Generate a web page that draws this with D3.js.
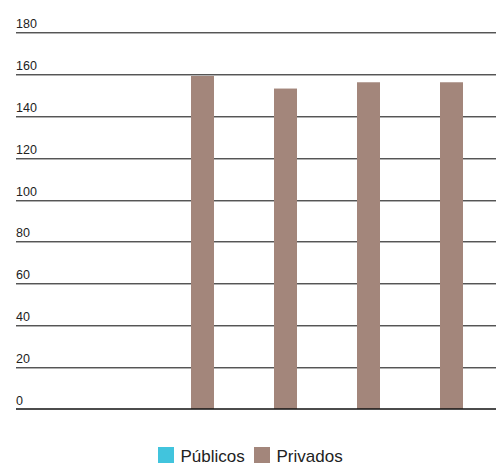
<!DOCTYPE html>
<html>
<head>
<meta charset="utf-8">
<script src="https://cdn.jsdelivr.net/npm/d3@7"></script>
<style>
  body { margin: 0; background: #fff; }
  svg { display: block; font-family: "Liberation Sans", Arial, sans-serif; }
</style>
</head>
<body>
<svg id="chart" width="496" height="466"></svg>
<script>
const categories = ["A", "B", "C", "D"]
const series = ["Públicos", "Privados"]
const publicos = [0, 0, 0, 0]
const privados = [159, 153, 156, 156]
const yTicks = [0, 20, 40, 60, 80, 100, 120, 140, 160, 180]
const colors = ["#41c4dd", "#a3867b"]

const svg = d3.select("#chart")
const margin = { top: 32, left: 16, right: 0, bottom: 57 }
const W = 496, H = 466

const y = d3.scaleLinear().domain([0, 180]).range([H - margin.bottom, margin.top])
const x0 = d3.scaleBand().domain(categories).range([149.5, 481.5])
const x1 = d3.scaleBand().domain(series).range([18.5, 64.5])
const color = d3.scaleOrdinal().domain(series).range(colors)

// grid lines
const grid = svg.append("g")
grid.selectAll(".gd").data(yTicks.filter((d) => d > 0)).join("line")
  .attr("x1", margin.left).attr("x2", W)
  .attr("y1", (d) => Math.round(y(d)) + 0.5).attr("y2", (d) => Math.round(y(d)) + 0.5)
  .attr("stroke", "#555").attr("stroke-width", 1)
grid.selectAll(".gl").data(yTicks.filter((d) => d > 0)).join("line")
  .attr("x1", margin.left).attr("x2", W)
  .attr("y1", (d) => Math.round(y(d)) + 1.5).attr("y2", (d) => Math.round(y(d)) + 1.5)
  .attr("stroke", "#b0b0b0").attr("stroke-width", 1)

// bars
const rows = categories.map((c, i) => ({ cat: c, values: [publicos[i], privados[i]] }))
svg.append("g").selectAll("g").data(rows).join("g")
  .attr("transform", (d) => `translate(${x0(d.cat)},0)`)
  .selectAll("rect")
  .data((d) => series.map((s, j) => ({ key: s, value: d.values[j] })))
  .join("rect")
  .attr("x", (d) => x1(d.key))
  .attr("width", x1.bandwidth())
  .attr("y", (d) => y(d.value))
  .attr("height", (d) => y(0) - y(d.value))
  .attr("fill", (d) => color(d.key))

// zero line
svg.append("line")
  .attr("x1", margin.left).attr("x2", W)
  .attr("y1", y(0)).attr("y2", y(0))
  .attr("stroke", "#111").attr("stroke-width", 1.5)

// tick labels
svg.append("g").selectAll("text").data(yTicks).join("text")
  .attr("x", margin.left)
  .attr("y", (d) => y(d) - 4)
  .attr("font-size", 12.5)
  .attr("fill", "#222")
  .text((d) => d)

// legend
const legend = svg.append("g").attr("transform", "translate(158,447)")
const items = [{ key: series[0], x: 0 }, { key: series[1], x: 96 }]
const li = legend.selectAll("g").data(items).join("g")
  .attr("transform", (d) => `translate(${d.x},0)`)
li.append("rect").attr("width", 16).attr("height", 16).attr("fill", (d) => color(d.key))
li.append("text").attr("x", 22.5).attr("y", 15).attr("font-size", 17).attr("fill", "#222").text((d) => d.key)
</script>
</body>
</html>
